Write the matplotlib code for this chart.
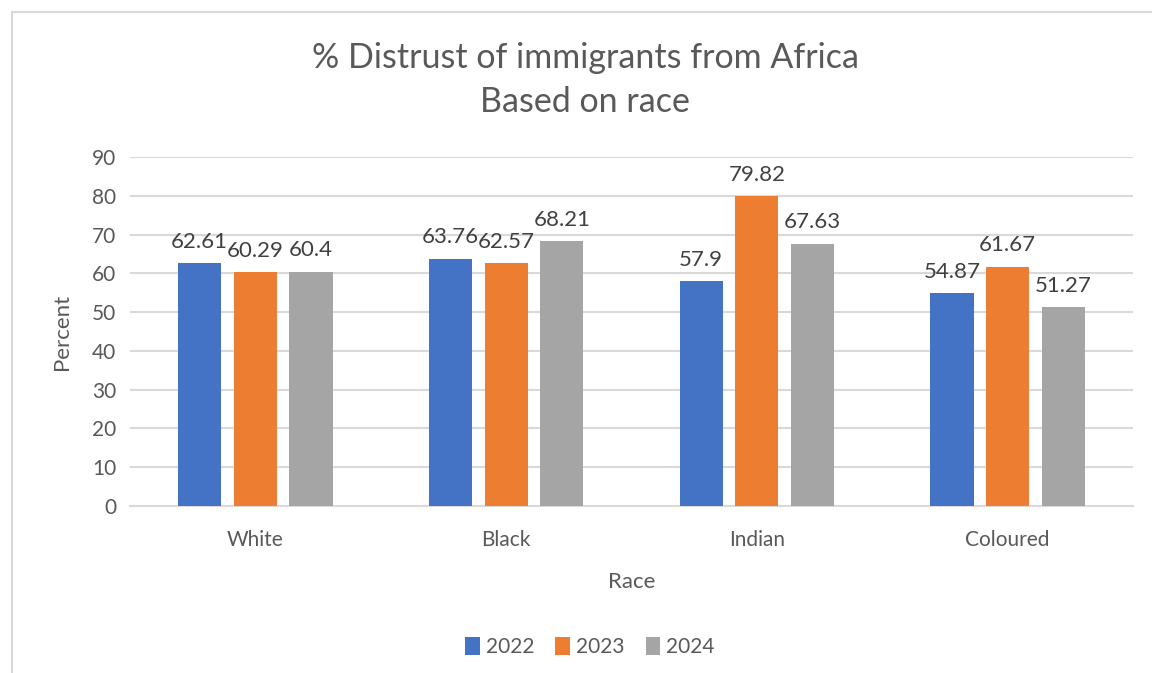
import numpy as np
import matplotlib
matplotlib.use('Agg')
import matplotlib.pyplot as plt
from matplotlib.patches import Rectangle

races = ['White', 'Black', 'Indian', 'Coloured']
years = ['2022', '2023', '2024']
vals_2022 = [62.61, 63.76, 57.9, 54.87]
vals_2023 = [60.29, 62.57, 79.82, 61.67]
vals_2024 = [60.4, 68.21, 67.63, 51.27]
colors = ['#4472c4', '#ed7d31', '#a5a5a5']

plt.rcParams['font.family'] = ['Lato', 'DejaVu Sans']

fig = plt.figure(figsize=(11.52, 6.73), dpi=100)
# chart frame
fig.patches.append(Rectangle((12 / 1152, -0.1), 1.2, 1 - 12 / 673 + 0.1,
                             transform=fig.transFigure, fill=False,
                             edgecolor='#d9d9d9', linewidth=1.5))
ax = fig.add_axes([130 / 1152, 1 - 506 / 673, 1003 / 1152, 349 / 673])

x = np.arange(len(races))
width = 0.172
step = 0.222
for i, (yr, vals) in enumerate(zip(years, [vals_2022, vals_2023, vals_2024])):
    bars = ax.bar(x + (i - 1) * step, vals, width, color=colors[i], label=yr, zorder=3)
    for b, v in zip(bars, vals):
        ax.text(b.get_x() + b.get_width() / 2, v + 3.0, '{:g}'.format(v),
                ha='center', va='bottom', fontsize=16, color='#404040')

ax.set_xlim(-0.5, 3.5)
ax.set_ylim(0, 90)
ax.set_yticks(range(0, 91, 10))
ax.grid(axis='y', color='#d9d9d9', linewidth=1.5, zorder=0)
for s in ['top', 'right', 'left']:
    ax.spines[s].set_visible(False)
ax.spines['bottom'].set_color('#d9d9d9')
ax.spines['bottom'].set_linewidth(1.5)
ax.tick_params(axis='both', length=0, labelsize=15, colors='#595959', pad=10)
ax.tick_params(axis='x', pad=17)
ax.set_xticks(x)
ax.set_xticklabels(races)
ax.set_xlabel('Race', fontsize=16, color='#595959', labelpad=16)
ax.set_ylabel('Percent', fontsize=16, color='#595959', labelpad=14)

fig.text(585 / 1152, 1 - 58 / 673, '% Distrust of immigrants from Africa',
         ha='center', va='center', fontsize=24.5, color='#595959')
fig.text(585 / 1152, 1 - 102 / 673, 'Based on race',
         ha='center', va='center', fontsize=24.5, color='#595959')

fig.legend(loc='center', bbox_to_anchor=(590 / 1152, 1 - 647 / 673), ncol=3,
           frameon=False, fontsize=15, handlelength=0.7, handleheight=1.0,
           handletextpad=0.3, columnspacing=1.0, labelcolor='#595959')

plt.savefig('out.png', dpi=100)
